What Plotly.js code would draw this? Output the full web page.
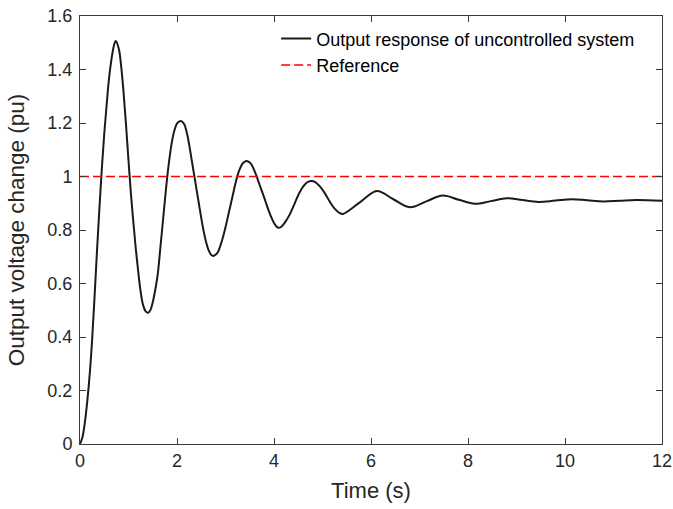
<!DOCTYPE html>
<html>
<head>
<meta charset="utf-8">
<script src="https://cdn.plot.ly/plotly-3.0.1.min.js"></script>
<style>html,body{margin:0;padding:0;background:#fff;}#chart{width:673px;height:509px;}</style>
</head>
<body>
<div id="chart"></div>
<script>
// Data (time in s, output in pu)
var timeS = [
  0, 0.05, 0.1, 0.15, 0.2, 0.25, 0.3, 0.35, 0.4, 0.45, 0.5, 0.55, 0.6, 0.65, 0.7, 0.736,
  0.8, 0.85, 0.9, 0.95, 1.0, 1.05, 1.1, 1.15, 1.2, 1.25, 1.3, 1.35, 1.402,
  1.45, 1.5, 1.55, 1.6, 1.65, 1.7, 1.75, 1.8, 1.85, 1.9, 1.95, 2.0, 2.05, 2.089,
  2.15, 2.2, 2.25, 2.3, 2.35, 2.4, 2.45, 2.5, 2.55, 2.6, 2.65, 2.7, 2.749,
  2.8, 2.85, 2.9, 2.95, 3.0, 3.05, 3.1, 3.15, 3.2, 3.25, 3.3, 3.35, 3.4, 3.437,
  3.5, 3.55, 3.6, 3.65, 3.7, 3.75, 3.8, 3.85, 3.9, 3.95, 4.0, 4.05, 4.096,
  4.15, 4.2, 4.25, 4.3, 4.35, 4.4, 4.45, 4.5, 4.55, 4.6, 4.65, 4.7, 4.777,
  4.85, 4.95, 5.05, 5.15, 5.25, 5.35, 5.42,
  5.77, 6.12, 6.46, 6.80, 7.14, 7.48, 7.81, 8.14, 8.47, 8.80, 9.12, 9.45, 9.8, 10.14, 10.46, 10.79, 11.13, 11.48, 12
];
var outputPu = [
  0, 0.025, 0.08, 0.16, 0.26, 0.39, 0.55, 0.72, 0.88, 1.03, 1.16, 1.27, 1.37, 1.44, 1.49, 1.507,
  1.478, 1.41, 1.31, 1.19, 1.06, 0.935, 0.83, 0.73, 0.645, 0.57, 0.52, 0.497, 0.491,
  0.50, 0.53, 0.575, 0.63, 0.72, 0.815, 0.91, 1.0, 1.075, 1.135, 1.175, 1.198, 1.206, 1.207,
  1.195, 1.165, 1.12, 1.065, 1.01, 0.955, 0.9, 0.845, 0.795, 0.755, 0.725, 0.708, 0.703,
  0.708, 0.72, 0.745, 0.775, 0.81, 0.85, 0.89, 0.93, 0.97, 1.005, 1.03, 1.048, 1.056, 1.058,
  1.052, 1.04, 1.02, 0.997, 0.97, 0.945, 0.92, 0.893, 0.868, 0.845, 0.826, 0.813, 0.808,
  0.812, 0.822, 0.835, 0.85, 0.868, 0.888, 0.91, 0.93, 0.948, 0.962, 0.973, 0.98, 0.983,
  0.979, 0.962, 0.937, 0.906, 0.88, 0.864, 0.86,
  0.903, 0.946, 0.915, 0.885, 0.907, 0.929, 0.913, 0.898, 0.908, 0.919, 0.912, 0.905, 0.91, 0.915, 0.911, 0.907, 0.9095, 0.912, 0.909
];
var refTime = [0, 12];
var refValue = [1, 1];
var seriesNames = ["Output response of uncontrolled system", "Reference"];
var xTicks = [0, 2, 4, 6, 8, 10, 12];
var yTicks = [0, 0.2, 0.4, 0.6, 0.8, 1, 1.2, 1.4, 1.6];
var yTickText = ["0", "0.2", "0.4", "0.6", "0.8", "1", "1.2", "1.4", "1.6"];

var FONT = "Liberation Sans, Arial, sans-serif";
var traces = [
  {x: timeS, y: outputPu, name: seriesNames[0], type: "scatter", mode: "lines",
   line: {color: "#1a1a1a", width: 2, shape: "spline", smoothing: 1}},
  {x: refTime, y: refValue, name: seriesNames[1], type: "scatter", mode: "lines",
   line: {color: "#ff0000", width: 1.5, dash: "9px,4px"}}
];
var axisCommon = {
  showgrid: false, zeroline: false, showline: true, mirror: "ticks",
  linecolor: "#3a3a3a", linewidth: 1, ticks: "inside", ticklen: 6, tickwidth: 1,
  tickcolor: "#3a3a3a", tickfont: {family: FONT, size: 18, color: "#262626"}
};
var layout = {
  width: 673, height: 509,
  margin: {l: 80, r: 11, t: 16, b: 65},
  paper_bgcolor: "#ffffff", plot_bgcolor: "#ffffff",
  showlegend: true,
  legend: {x: 0.337, y: 0.99, xanchor: "left", yanchor: "top", bgcolor: "rgba(0,0,0,0)", borderwidth: 0,
           font: {family: FONT, size: 18, color: "#000000"}},
  xaxis: Object.assign({}, axisCommon, {range: [0, 12], tickvals: xTicks,
    title: {text: "Time (s)", font: {family: FONT, size: 22, color: "#262626"}, standoff: 13}}),
  yaxis: Object.assign({}, axisCommon, {range: [0, 1.6], tickvals: yTicks, ticktext: yTickText,
    ticklabelstandoff: 3,
    title: {text: "Output voltage change (pu)", font: {family: FONT, size: 22.5, color: "#262626"}, standoff: 16}})
};
Plotly.newPlot("chart", traces, layout, {displayModeBar: false, staticPlot: true});
</script>
</body>
</html>
